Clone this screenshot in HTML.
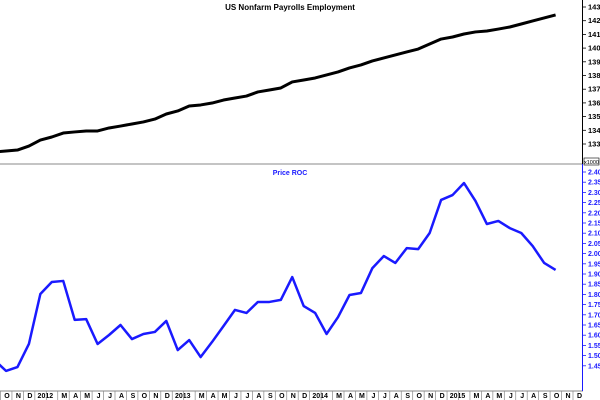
<!DOCTYPE html>
<html><head><meta charset="utf-8"><style>
html,body{margin:0;padding:0;background:#fff;}
svg{display:block;font-family:"Liberation Sans",Arial,sans-serif;}
</style></head><body>
<svg id="chart" width="600" height="400" viewBox="0 0 600 400" xmlns="http://www.w3.org/2000/svg">
<rect x="0" y="0" width="600" height="400" fill="#fff"/>
<text x="290" y="10" font-size="8" font-weight="bold" text-anchor="middle" fill="#000">US Nonfarm Payrolls Employment</text>
<text x="290" y="175" font-size="7" font-weight="bold" text-anchor="middle" fill="#1a1aff">Price ROC</text>
<line x1="0" y1="164" x2="583" y2="164" stroke="#888" stroke-width="1"/>
<line x1="0" y1="391" x2="583" y2="391" stroke="#888" stroke-width="1"/>
<line x1="582.5" y1="0" x2="582.5" y2="164" stroke="#000" stroke-width="1"/>
<line x1="582.5" y1="164" x2="582.5" y2="391" stroke="#1a1aff" stroke-width="1"/>
<rect x="584" y="158" width="15" height="7" fill="#fff" stroke="#000" stroke-width="0.6"/>
<text x="591.5" y="164" font-size="5.5" text-anchor="middle" fill="#000">x1000</text>
<g id="top"></g><g id="bot"></g><g id="xax"></g>
</svg>
<script>
const months = ["O","N","D","2012","","M","A","M","J","J","A","S","O","N","D","2013","","M","A","M","J","J","A","S","O","N","D","2014","","M","A","M","J","J","A","S","O","N","D","2015","","M","A","M","J","J","A","S","O","N","D"];
const payrolls = [132.42,132.49,132.56,132.85,133.29,133.51,133.80,133.88,133.95,133.95,134.17,134.31,134.46,134.61,134.82,135.19,135.41,135.77,135.85,135.99,136.21,136.36,136.50,136.80,136.94,137.09,137.53,137.67,137.82,138.04,138.26,138.55,138.77,139.06,139.28,139.50,139.72,139.93,140.30,140.66,140.81,141.03,141.18,141.25,141.39,141.54,141.76,141.98,142.20,142.42];
const roc = [1.478,1.425,1.444,1.557,1.802,1.861,1.866,1.675,1.679,1.557,1.601,1.650,1.581,1.606,1.616,1.670,1.527,1.576,1.493,1.567,1.645,1.724,1.709,1.763,1.763,1.773,1.885,1.743,1.709,1.606,1.689,1.797,1.807,1.929,1.988,1.954,2.027,2.022,2.101,2.263,2.287,2.346,2.258,2.145,2.160,2.125,2.101,2.037,1.954,1.920];
const topTicks = [133,134,135,136,137,138,139,140,141,142,143];
const botTicks = [1.45,1.50,1.55,1.60,1.65,1.70,1.75,1.80,1.85,1.90,1.95,2.00,2.05,2.10,2.15,2.20,2.25,2.30,2.35,2.40];
const X = i => 6 + (i - 1) * 11.45;
const Ytop = v => 7 + (143 - v) * 13.7;
const Ybot = v => 172 + (2.40 - v) * 204;
const NS = "http://www.w3.org/2000/svg";
function mk(tag, attrs, parent){const e=document.createElementNS(NS,tag);for(const k in attrs)e.setAttribute(k,attrs[k]);parent.appendChild(e);return e;}
const gt=document.getElementById('top'), gb=document.getElementById('bot'), gx=document.getElementById('xax');
topTicks.forEach(v=>{
  const y=Ytop(v);
  const t=mk('line',{x1:582.5,y1:y,x2:586,y2:y,stroke:'#000','stroke-width':0.8},gt);
  
  
  const l=mk('text',{x:588,y:y+2.5,'font-size':7.5,'font-weight':'bold',fill:'#000'},gt);
  l.textContent=String(v);
  
  
});
botTicks.forEach(v=>{
  const y=Ybot(v);
  const t=mk('line',{x1:582.5,y1:y,x2:586,y2:y,stroke:'#1a1aff','stroke-width':0.8},gb);
  
  
  const l=mk('text',{x:588,y:y+2.5,'font-size':7,'font-weight':'bold',fill:'#1a1aff'},gb);
  l.textContent=v.toFixed(2);
  
  
});
const p1=mk('polyline',{points:payrolls.map((v,i)=>X(i)+','+Ytop(v)).join(' '),fill:'none',stroke:'#000','stroke-width':3,'stroke-linejoin':'round'},gt);


const p2=mk('polyline',{points:roc.map((v,i)=>X(i)+','+Ybot(v)).join(' '),fill:'none',stroke:'#1a1aff','stroke-width':2.5,'stroke-linejoin':'round'},gb);


months.forEach((m,k)=>{
  const x=X(k+1);
  const t=mk('line',{x1:x-5.5,y1:391,x2:x-5.5,y2:400,stroke:'#888','stroke-width':0.7},gx);
  
  
  if(!m) return;
  const l=mk('text',{x:m.length>1?x+5:x+1,y:398,'font-size':7,'font-weight':'bold','text-anchor':'middle',fill:'#000'},gx);
  l.textContent=m;
  
  
});
</script>
</body></html>
